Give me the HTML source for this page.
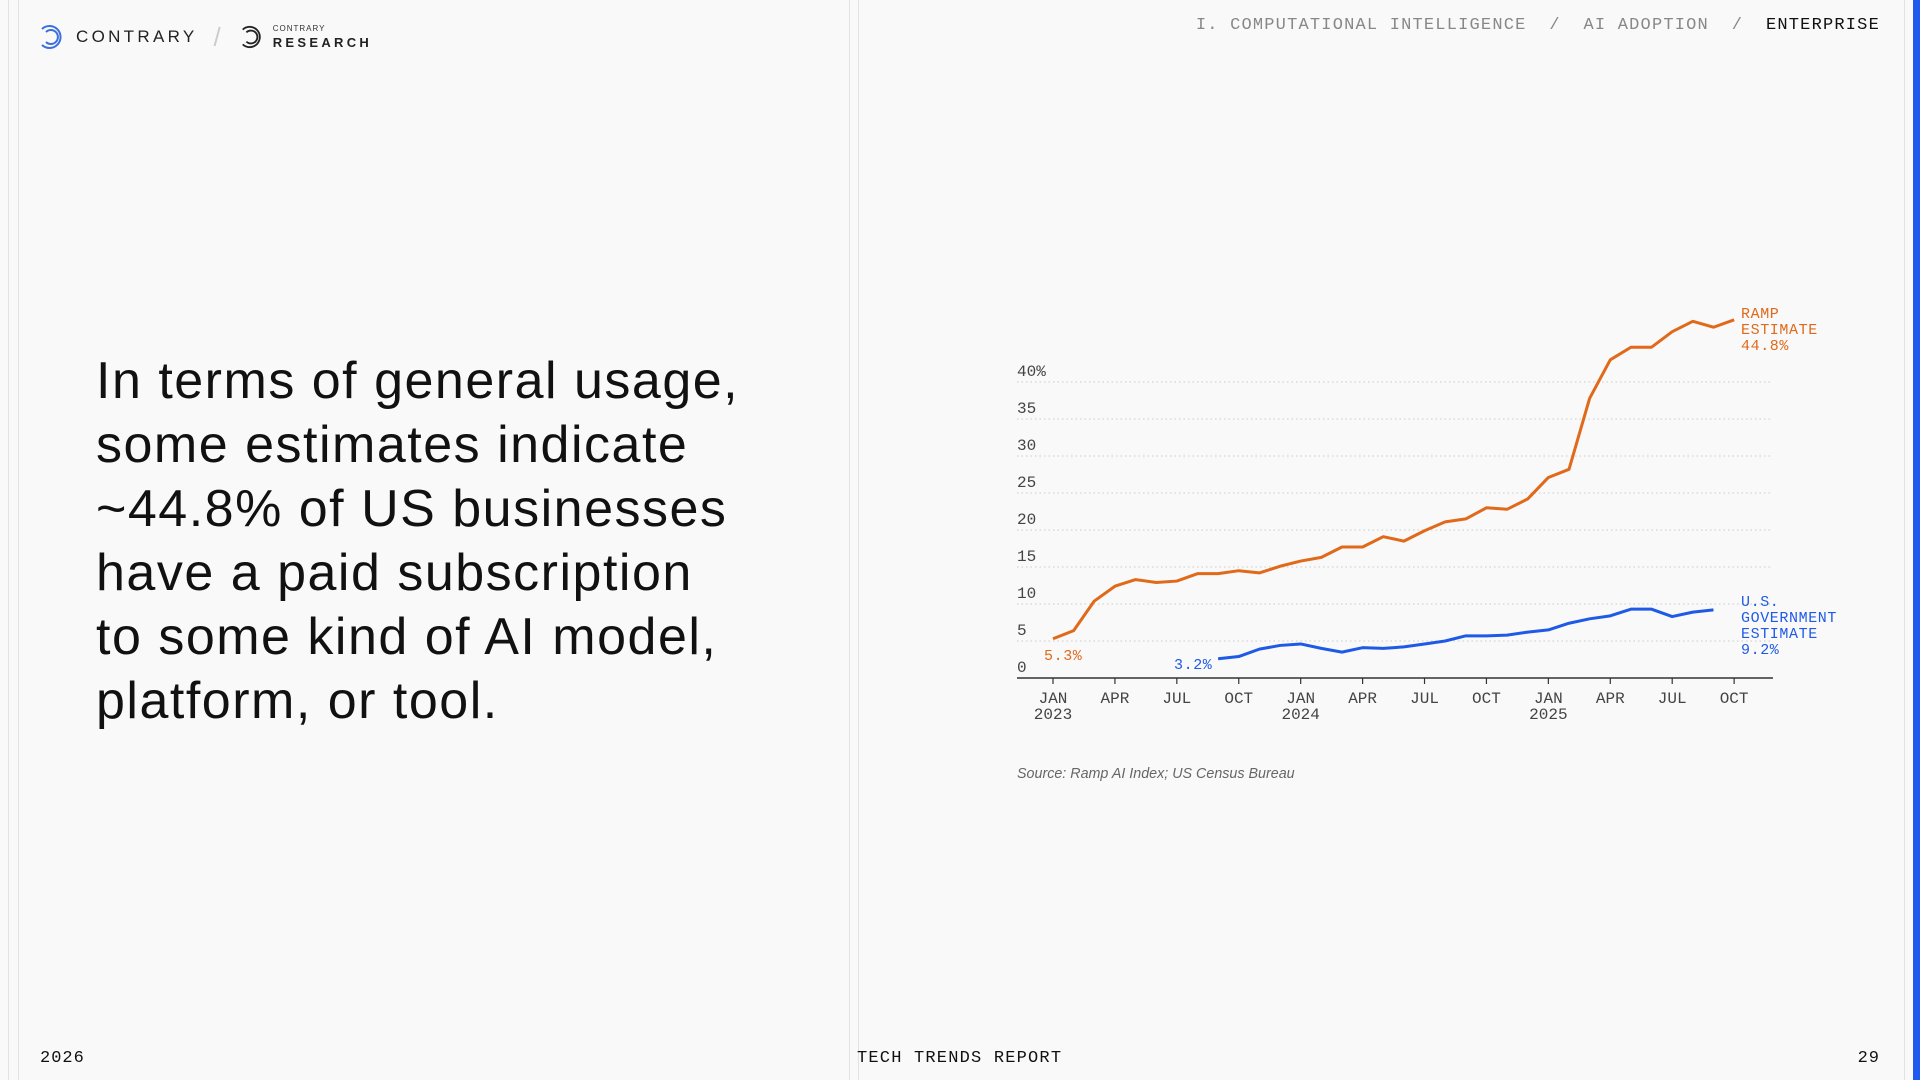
<!DOCTYPE html>
<html><head><meta charset="utf-8">
<style>
html,body{margin:0;padding:0;}
body{width:1920px;height:1080px;background:#f9f9f9;position:relative;overflow:hidden;font-family:"Liberation Sans",sans-serif;color:#111;}
.abs{position:absolute;}
.mono{font-family:"Liberation Mono",monospace;}
.vline{position:absolute;top:0;width:1px;height:1080px;background:#e2e2e2;}
</style></head>
<body>
<div class="vline" style="left:8px"></div>
<div class="vline" style="left:18px"></div>
<div class="vline" style="left:849px"></div>
<div class="vline" style="left:858px"></div>
<div class="abs" style="left:1913px;top:0;width:7px;height:1080px;background:#1f5af0"></div>
<div class="vline" style="left:1904px"></div>

<div class="abs" style="left:38px;top:22px;height:30px;display:flex;align-items:center;">
  <svg width="26" height="26" viewBox="0 0 26 26"><g fill="none" stroke="#3b6fe0" stroke-width="2"><path d="M4 5 A11 11 0 1 1 4 21"/><path d="M8 8 A7 7 0 1 1 8 18"/></g></svg>
  <span style="margin-left:12px;font-size:17px;letter-spacing:3.3px;color:#222">CONTRARY</span>
  <span style="margin-left:16px;font-size:26px;color:#ccc;font-weight:200">/</span>
  <svg style="margin-left:18px" width="24" height="24" viewBox="0 0 26 26"><g fill="none" stroke="#222" stroke-width="2"><path d="M4 5 A11 11 0 1 1 4 21"/><path d="M8 8 A7 7 0 1 1 8 18"/></g></svg>
  <span style="margin-left:10px;display:flex;flex-direction:column;line-height:1">
    <span style="font-size:8px;letter-spacing:1px;color:#333">CONTRARY</span>
    <span style="font-size:13px;letter-spacing:3.3px;font-weight:bold;color:#222;margin-top:3px">RESEARCH</span>
  </span>
</div>

<div class="abs mono" style="right:40px;top:16px;font-size:17px;letter-spacing:1.2px;color:#888;white-space:pre">I. COMPUTATIONAL INTELLIGENCE  /  AI ADOPTION  /  <span style="color:#111">ENTERPRISE</span></div>

<div class="abs" style="left:96px;top:349px;font-size:52px;line-height:64px;letter-spacing:1.5px;color:#111;">In terms of general usage,<br>some estimates indicate<br>~44.8% of US businesses<br>have a paid subscription<br>to some kind of AI model,<br>platform, or tool.</div>

<svg class="abs" style="left:0;top:0" width="1920" height="1080" id="chart"></svg>

<div class="abs" style="left:1017px;top:766px;font-size:14.3px;font-style:italic;color:#666">Source: Ramp AI Index; US Census Bureau</div>

<div class="abs mono" style="left:40px;top:1049px;font-size:17px;letter-spacing:1px">2026</div>
<div class="abs mono" style="left:857px;top:1049px;font-size:17px;letter-spacing:1.2px">TECH TRENDS REPORT</div>
<div class="abs mono" style="right:40px;top:1049px;font-size:17px;letter-spacing:1px">29</div>

<script>
const months = ["2023-01","2023-02","2023-03","2023-04","2023-05","2023-06","2023-07","2023-08","2023-09","2023-10","2023-11","2023-12","2024-01","2024-02","2024-03","2024-04","2024-05","2024-06","2024-07","2024-08","2024-09","2024-10","2024-11","2024-12","2025-01","2025-02","2025-03","2025-04","2025-05","2025-06","2025-07","2025-08","2025-09","2025-10"];
const rampValues = [5.3,6.4,10.4,12.4,13.3,12.9,13.1,14.1,14.1,14.5,14.2,15.1,15.8,16.3,17.7,17.7,19.1,18.5,19.9,21.1,21.5,23.0,22.8,24.2,27.1,28.2,37.8,43.0,44.7,44.7,46.8,48.2,47.4,48.4];
const govStartIndex = 8;
const govValues = [2.6,2.9,3.9,4.4,4.6,4.0,3.5,4.1,4.0,4.2,4.6,5.0,5.7,5.7,5.8,6.2,6.5,7.4,8.0,8.4,9.3,9.3,8.3,8.9,9.2];
const yTicks = [0,5,10,15,20,25,30,35,40];
const yTickLabels = ["0","5","10","15","20","25","30","35","40%"];
const xTickIndex = [0,3,6,9,12,15,18,21,24,27,30,33];
const xTickLabels = ["JAN","APR","JUL","OCT","JAN","APR","JUL","OCT","JAN","APR","JUL","OCT"];
const xTickYears = ["2023","","","","2024","","","","2025","","",""];

const NS="http://www.w3.org/2000/svg";
const svg=document.getElementById('chart');
const x0=1053, dx=20.64, yBase=678, yPer=7.4;
function xs(i){return x0+i*dx;}
function ys(v){return yBase-v*yPer;}
function mk(tag,attrs){const e=document.createElementNS(NS,tag);for(const k in attrs)e.setAttribute(k,attrs[k]);svg.appendChild(e);return e;}

yTicks.forEach((t,i)=>{
  if(t>0){
    const g=mk('line',{x1:1017,x2:1773,y1:ys(t),y2:ys(t),stroke:'#d4d4d4','stroke-width':1.3,'stroke-dasharray':'1.5 3'});
    
    
  }
  const l=mk('text',{x:1017,y:ys(t)-6,'font-size':16,'font-family':'Liberation Mono, monospace',fill:'#444'});
  l.textContent=yTickLabels[i];
  
  
});
const ax=mk('line',{x1:1017,x2:1773,y1:yBase,y2:yBase,stroke:'#333','stroke-width':1.5});


xTickIndex.forEach((idx,i)=>{
  const tk=mk('line',{x1:xs(idx),x2:xs(idx),y1:yBase,y2:yBase+6,stroke:'#333','stroke-width':1.2});
  
  
  const t=mk('text',{x:xs(idx),y:703,'text-anchor':'middle','font-size':16,'font-family':'Liberation Mono, monospace',fill:'#444'});
  t.textContent=xTickLabels[i];
  
  
  if(xTickYears[i]){
    const y=mk('text',{x:xs(idx),y:719,'text-anchor':'middle','font-size':16,'font-family':'Liberation Mono, monospace',fill:'#444'});
    y.textContent=xTickYears[i];
    
    
  }
});
const rp=mk('polyline',{points:rampValues.map((v,i)=>xs(i)+','+ys(v)).join(' '),fill:'none',stroke:'#e0691a','stroke-width':3,'stroke-linejoin':'round'});


const gp=mk('polyline',{points:govValues.map((v,i)=>xs(i+govStartIndex)+','+ys(v)).join(' '),fill:'none',stroke:'#1f5ae6','stroke-width':3,'stroke-linejoin':'round'});



function label(lines,x,y,color,name){
  lines.forEach((s,i)=>{
    const t=mk('text',{x:x,y:y+i*16,'font-size':15,'font-family':'Liberation Mono, monospace',fill:color,'letter-spacing':0.6});
    t.textContent=s;
    
    
  });
}
label(["RAMP","ESTIMATE","44.8%"],1741,318,'#e0691a','ramp-label');
label(["U.S.","GOVERNMENT","ESTIMATE","9.2%"],1741,606,'#1f5ae6','government-label');
label(["5.3%"],1044,660,'#e0691a','ramp-start-label');
label(["3.2%"],1174,669,'#1f5ae6','government-start-label');
</script>
</body></html>
